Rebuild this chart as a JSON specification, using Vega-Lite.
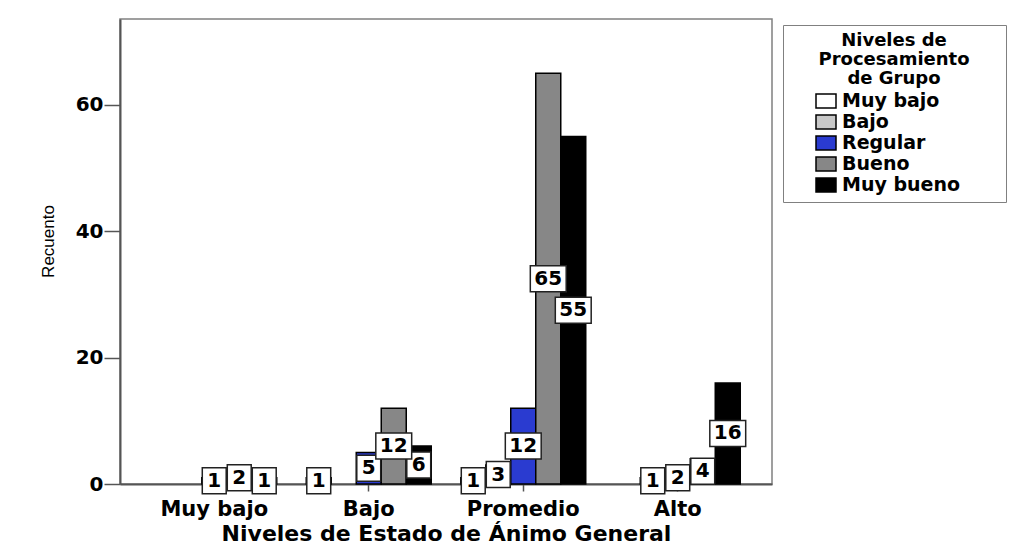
{
  "$schema": "https://vega.github.io/schema/vega-lite/v6.json",
  "width": 652,
  "height": 465,
  "autosize": {"type": "none"},
  "padding": {"left": 120, "top": 19, "right": 241, "bottom": 71},
  "background": "white",
  "config": {
    "view": {"stroke": "#808080", "strokeWidth": 1.5},
    "axis": {"grid": false}
  },
  "data": {
    "values": [
      {"animo": "Muy bajo", "grupo": "Regular", "n": 1},
      {"animo": "Muy bajo", "grupo": "Bueno", "n": 2},
      {"animo": "Muy bajo", "grupo": "Muy bueno", "n": 1},
      {"animo": "Bajo", "grupo": "Muy bajo", "n": 1},
      {"animo": "Bajo", "grupo": "Regular", "n": 5},
      {"animo": "Bajo", "grupo": "Bueno", "n": 12},
      {"animo": "Bajo", "grupo": "Muy bueno", "n": 6},
      {"animo": "Promedio", "grupo": "Muy bajo", "n": 1},
      {"animo": "Promedio", "grupo": "Bajo", "n": 3},
      {"animo": "Promedio", "grupo": "Regular", "n": 12},
      {"animo": "Promedio", "grupo": "Bueno", "n": 65},
      {"animo": "Promedio", "grupo": "Muy bueno", "n": 55},
      {"animo": "Alto", "grupo": "Bajo", "n": 1},
      {"animo": "Alto", "grupo": "Regular", "n": 2},
      {"animo": "Alto", "grupo": "Bueno", "n": 4},
      {"animo": "Alto", "grupo": "Muy bueno", "n": 16}
    ]
  },
  "encoding": {
    "x": {
      "field": "animo",
      "type": "nominal",
      "sort": ["Muy bajo", "Bajo", "Promedio", "Alto"],
      "scale": {"paddingInner": 0, "paddingOuter": 0.11},
      "axis": {
        "title": "Niveles de Estado de Ánimo General",
        "labelAngle": 0,
        "tickSize": 7,
        "tickColor": "#555555",
        "tickWidth": 1.5,
        "domainColor": "#555555",
        "domainWidth": 2,
        "labelFont": "DejaVu Sans",
        "labelFontSize": 21,
        "labelFontWeight": "bold",
        "labelColor": "black",
        "labelPadding": 7,
        "titleFont": "DejaVu Sans",
        "titleFontSize": 22,
        "titleFontWeight": "bold",
        "titleColor": "black",
        "titlePadding": 4
      }
    },
    "xOffset": {
      "field": "grupo",
      "type": "nominal",
      "sort": ["Muy bajo", "Bajo", "Regular", "Bueno", "Muy bueno"],
      "scale": {"domain": ["Muy bajo", "Bajo", "Regular", "Bueno", "Muy bueno"], "paddingInner": 0, "paddingOuter": 0.59}
    }
  },
  "layer": [
    {
      "mark": {"type": "bar", "stroke": "black", "strokeWidth": 1.5},
      "encoding": {
        "y": {
          "field": "n",
          "type": "quantitative",
          "scale": {"domain": [0, 73.6], "nice": false, "zero": true},
          "axis": {
            "title": "Recuento",
            "values": [0, 20, 40, 60],
            "tickSize": 16,
            "tickColor": "#555555",
            "tickWidth": 1.5,
            "domainColor": "#555555",
            "domainWidth": 2,
            "labelFont": "DejaVu Sans",
            "labelFontSize": 20,
            "labelFontWeight": "bold",
            "labelColor": "black",
            "labelPadding": 1,
            "titleFont": "Liberation Sans",
            "titleFontSize": 17,
            "titleFontWeight": "normal",
            "titleColor": "black",
            "titlePadding": 18,
            "titleY": 222
          }
        },
        "color": {
          "field": "grupo",
          "type": "nominal",
          "scale": {
            "domain": ["Muy bajo", "Bajo", "Regular", "Bueno", "Muy bueno"],
            "range": ["#ffffff", "#c8c8c8", "#2a3bd0", "#878787", "#000000"]
          },
          "legend": {
            "title": ["Niveles de", "\u200b\u2002\u2002\u2002Procesamiento\u2002\u2002\u2002\u200b", "de Grupo"],
            "orient": "none",
            "legendX": 663,
            "legendY": 6,
            "padding": 7,
            "strokeColor": "#808080",
            "fillColor": "white",
            "titleAlign": "center",
            "titleAnchor": "middle",
            "titleFont": "DejaVu Sans",
            "titleFontSize": 18,
            "titleFontWeight": "bold",
            "titleColor": "black",
            "titleLineHeight": 19,
            "titleLimit": 400,
            "titlePadding": 2,
            "labelFont": "DejaVu Sans",
            "labelFontSize": 19,
            "labelFontWeight": "bold",
            "labelColor": "black",
            "labelOffset": 5,
            "labelLimit": 300,
            "labelExpr": "datum.label + '\u2002\u2002\u2002\u2002\u200b'",
            "symbolType": "M-1,-0.7H1V0.7H-1Z",
            "symbolSize": 400,
            "symbolStrokeColor": "black",
            "symbolStrokeWidth": 1.5,
            "symbolOpacity": 1,
            "symbolOffset": 25,
            "rowPadding": -0.5
          }
        }
      }
    },
    {
      "transform": [{"filter": "datum.n < 10"}, {"calculate": "datum.n / 2", "as": "mid"}],
      "mark": {"type": "point", "shape": "M-0.92,-1H0.92V1H-0.92Z", "size": 676, "filled": true, "fill": "white", "stroke": "#222222", "strokeWidth": 1.5, "opacity": 1},
      "encoding": {
        "y": {"field": "mid", "type": "quantitative", "title": "Recuento", "scale": {"domain": [0, 73.6], "nice": false, "zero": true}}
      }
    },
    {
      "transform": [{"filter": "datum.n >= 10"}, {"calculate": "datum.n / 2", "as": "mid"}],
      "mark": {"type": "point", "shape": "M-1.38,-1H1.38V1H-1.38Z", "size": 676, "filled": true, "fill": "white", "stroke": "#222222", "strokeWidth": 1.5, "opacity": 1},
      "encoding": {
        "y": {"field": "mid", "type": "quantitative", "title": "Recuento", "scale": {"domain": [0, 73.6], "nice": false, "zero": true}}
      }
    },
    {
      "transform": [{"calculate": "datum.n / 2", "as": "mid"}],
      "mark": {"type": "text", "font": "DejaVu Sans", "fontWeight": "bold", "fontSize": 20, "baseline": "middle", "align": "center", "color": "black"},
      "encoding": {
        "y": {"field": "mid", "type": "quantitative", "title": "Recuento", "scale": {"domain": [0, 73.6], "nice": false, "zero": true}},
        "text": {"field": "n", "type": "quantitative"}
      }
    }
  ]
}
